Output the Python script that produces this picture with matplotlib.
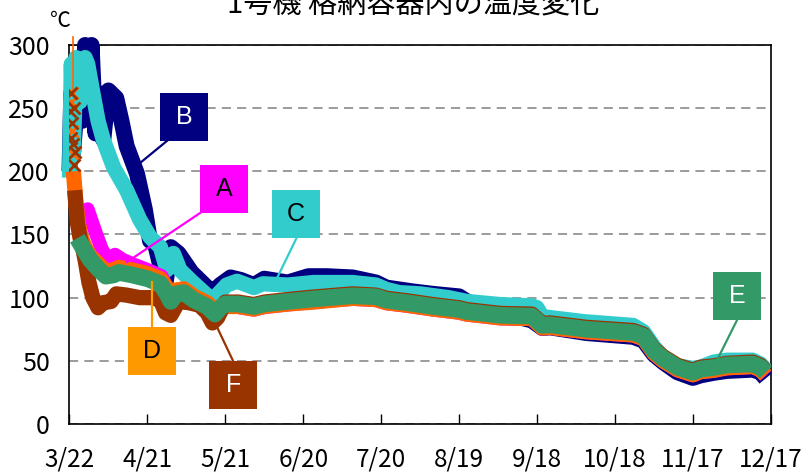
import matplotlib
matplotlib.use("Agg")
import matplotlib.pyplot as plt
from matplotlib.patches import Rectangle

plt.rcParams['font.family'] = ['Noto Sans CJK JP', 'DejaVu Sans']

# days counted from 3/22
XTICK_DAYS = [0, 30, 60, 90, 120, 150, 180, 210, 240, 270]
XTICK_LABELS = ['3/22', '4/21', '5/21', '6/20', '7/20', '8/19', '9/18', '10/18', '11/17', '12/17']
YTICKS = [0, 50, 100, 150, 200, 250, 300]

B_DAYS = [0, 0.7, 1.4, 2.5, 4, 5, 6, 7.5, 8.5, 10, 11, 13, 15, 18, 20, 22, 26, 29, 31, 33, 35, 37, 39,
          42, 47, 51, 55, 58, 62, 66, 71, 75, 84, 92, 99, 109, 118, 122, 132, 140, 150, 153, 166,
          178, 182, 185, 199, 217, 221, 225, 228.5, 234, 240, 243, 248, 253, 263, 266, 268]
B_VALS = [200, 262, 215, 245, 290, 240, 300, 255, 300, 230, 262, 225, 264, 258, 240, 220, 198, 170, 145,
          142, 125, 112, 140, 135, 120, 112, 104, 110, 116, 114, 110, 115, 112, 117, 117, 116, 112,
          108, 105, 103, 101, 97, 88, 82, 76, 76.5, 72, 69, 66, 55, 49, 41, 36.5, 38.5, 40.5, 42, 43,
          41, 36]

C_DAYS = [0, 0.7, 1.5, 2.5, 4, 6, 7, 9, 11, 13, 17, 22, 27, 31, 35, 37.5, 40, 42.5, 47.5, 55, 60.5,
          64.5, 71, 74.5, 84, 94, 109, 118, 122, 127, 135, 146, 153, 166, 178, 180, 182, 198, 217,
          221, 225, 228.5, 234, 240, 243, 248, 253, 263, 266, 268]
C_VALS = [195, 285, 215, 290, 255, 290, 285, 262, 240, 225, 203, 185, 162, 148, 140, 122, 135, 122, 112,
          98, 110, 113, 108, 111, 110, 112, 112, 110, 106.5, 104, 103, 100, 97, 94.5, 93.5, 92, 85,
          81, 78, 73, 61, 53, 46, 44, 45, 49, 50.5, 50.5, 47.5, 43]

A_DAYS = [4.5, 7, 10, 12.5, 15, 17.5, 20.5, 25, 30, 35.5, 38, 41, 44, 48, 53, 56, 58, 60, 65, 71,
          75, 84, 94, 109, 118, 122, 130, 140, 150, 153, 166, 178, 182, 185, 199, 217, 221, 225,
          228.5, 234, 240, 243, 248, 253, 263, 266, 268]
A_VALS = [160, 170, 152, 138, 130, 134, 130, 126, 122, 117, 105, 104, 103, 97, 92, 86, 91, 94, 92.5,
          90.5, 92.5, 94.5, 96.5, 99, 98, 95.5, 93.5, 90.5, 88, 86.5, 83.5, 83, 75.5, 76, 72.5, 70,
          67, 55.5, 49.5, 42.5, 38.5, 41, 42, 44, 45, 42.5, 38]

D_DAYS = [1.5, 2.5, 3.5, 4.5, 6, 8, 11, 14, 17, 19, 24, 30, 35, 37.5, 39, 41, 44, 48, 53, 56, 58,
          60, 65, 71, 75, 84, 94, 109, 118, 122, 130, 140, 150, 153, 166, 178, 182, 185, 199, 217,
          221, 225, 228.5, 234, 240, 243, 248, 253, 263, 266, 268]
D_VALS = [200, 175, 158, 148, 140, 133, 127, 121, 122, 124, 122, 119, 115, 108, 101, 106,
          107, 101, 96, 90, 93, 93, 93, 91, 93, 95, 96.5, 99.5, 98.5, 96, 94, 91, 88.5, 87, 84, 83.5,
          76, 76.5, 73, 70.5, 67.5, 56, 50, 43, 39, 41.5, 42.5, 44.5, 45.5, 43, 38.5]
# first hours: scattered readings
D_X_DAYS = [0.4, 0.8, 1.1, 1.4, 1.9]
D_X_VALS = [255, 232, 262, 214, 196]
D_SPIKE_DAYS = [1.2, 1.2]
D_SPIKE_VALS = [306, 262]

F_DAYS = [2, 3, 4, 5, 6, 7.5, 9, 11, 13, 16, 18, 22, 27, 32, 35, 37, 39, 42, 46,
          50, 53, 55, 57, 60, 65, 71, 75, 84, 94, 109, 118, 122, 130, 140, 150, 153, 166, 178, 182,
          185, 199, 217, 221, 225, 228.5, 234, 240, 243, 248, 253, 263, 266, 268]
F_VALS = [185, 160, 148, 140, 130, 112, 100, 92, 96, 97, 103, 102, 100, 100, 98, 88,
          86, 97, 96, 94, 88, 80, 84, 96.5, 96.5, 94.5, 96.5, 98.5, 100.5, 103, 102, 99.5, 97.5,
          94.5, 92, 90.5, 87.5, 87, 79.5, 80, 76.5, 74, 71, 59.5, 53.5, 46.5, 42.5, 45, 46, 48, 49,
          46.5, 42]
F_X_DAYS = [0.2, 0.5, 0.7, 1.0, 1.3, 1.6, 1.8, 2.2]
F_X_VALS = [248, 226, 262, 238, 222, 250, 205, 215]

E_DAYS = [3, 5, 8, 11, 14, 17, 19, 24, 30, 35, 37.5, 39, 41, 44, 48, 53, 56, 58, 60, 65, 71, 75,
          84, 94, 109, 118, 122, 130, 140, 150, 153, 166, 178, 182, 185, 199, 217, 221, 225, 228.5,
          234, 240, 243, 248, 253, 263, 266, 268]
E_VALS = [147, 140, 130, 123, 117, 118, 120, 118, 115, 111, 103, 97, 103, 104, 98, 93, 87, 92, 95, 95,
          93, 95, 97, 99, 101.5, 100.7, 98, 96, 93, 90.6, 89, 86, 85.4, 78, 78.5, 75, 72.4, 69.6,
          58, 52, 45, 41, 43.5, 44.7, 46.7, 47.5, 45, 40.7]

# name, days, values, line colour, box colour, text colour, line width
SERIES = [
    ('B', B_DAYS, B_VALS, '#000080', '#000080', 'white', 11.5),
    ('C', C_DAYS, C_VALS, '#33CCCC', '#33CCCC', 'black', 11),
    ('A', A_DAYS, A_VALS, '#FF00FF', '#FF00FF', 'black', 10),
    ('D', D_DAYS, D_VALS, '#FF6600', '#FF9900', 'black', 11),
    ('F', F_DAYS, F_VALS, '#993300', '#993300', 'white', 11),
    ('E', E_DAYS, E_VALS, '#339966', '#339966', 'white', 12),
]

# label box centre and leader line (box end, series end)
LABELS = {
    'B': ((44.1, 243.3), (37.9, 224.7), (25.2, 203.3)),
    'A': ((59.5, 185.9), (50.2, 166.9), (22.1, 128.2)),
    'C': ((87.2, 166.5), (87.6, 148.0), (79.9, 115.5)),
    'D': ((31.6, 57.4), (31.8, 76.7), (31.8, 112.3)),
    'F': ((63.0, 30.5), (63.0, 49.8), (56.8, 76.7)),
    'E': ((257.0, 101.3), (257.0, 82.3), (249.3, 50.6)),
}

fig = plt.figure(figsize=(8.08, 4.72), dpi=100)
ax = fig.add_axes([0.086, 0.1017, 0.868, 0.803])

for i, (name, d, v, lc, bc, tc, lw) in enumerate(SERIES):
    ax.plot(d, v, color=lc, lw=lw, solid_joinstyle='round', solid_capstyle='butt',
            zorder=3 + i, clip_on=False)

# early scattered readings of D and F
ax.plot(D_SPIKE_DAYS, D_SPIKE_VALS, color='#FF6600', lw=1.2, zorder=9, clip_on=False)
ax.plot(D_X_DAYS, D_X_VALS, 'x', color='#FF6600', ms=8, mew=2, zorder=9)
ax.plot(F_X_DAYS, F_X_VALS, 'x', color='#993300', ms=8, mew=2, zorder=9)

# label boxes
bw, bh = 48 / 2.597, 48 / 1.264
for name, d, v, lc, bc, tc, lw in SERIES:
    (cx, cy), p1, p2 = LABELS[name]
    ax.plot([p1[0], p2[0]], [p1[1], p2[1]], color=bc, lw=1.6, zorder=10)
    ax.add_patch(Rectangle((cx - bw / 2, cy - bh / 2), bw, bh, facecolor=bc,
                           edgecolor='none', zorder=11))
    ax.text(cx, cy, name, ha='center', va='center', color=tc, fontsize=18,
            family='Liberation Sans', zorder=12)

ax.set_xlim(0, 270)
ax.set_ylim(0, 300)
ax.set_xticks(XTICK_DAYS)
ax.set_xticklabels(XTICK_LABELS)
ax.set_yticks(YTICKS)
ax.yaxis.grid(True, color='#808080', linestyle=(0, (6, 4)), lw=1.1)
ax.set_axisbelow(True)
ax.tick_params(axis='x', direction='in', length=7, width=1, pad=16, labelsize=17.5)
ax.tick_params(axis='y', direction='in', length=0, pad=14, labelsize=18)
for s in ax.spines.values():
    s.set_color('black')
    s.set_linewidth(1.2)

fig.text(0.0743, 0.955, '℃', fontsize=15, ha='center', va='center')
fig.text(0.511, 0.972, '1号機 格納容器内の温度変化', fontsize=21, ha='center', va='baseline')

fig.savefig('out.png', dpi=100)
